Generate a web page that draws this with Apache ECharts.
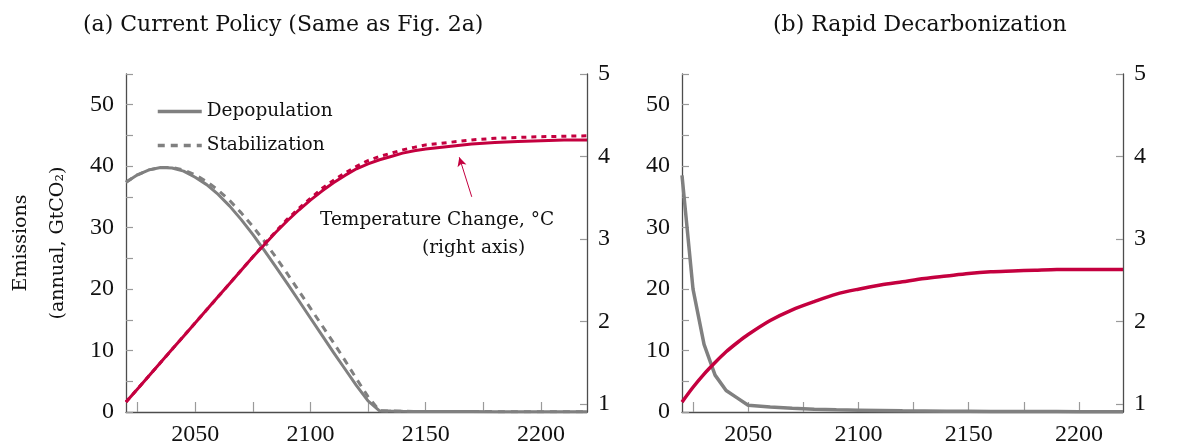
<!DOCTYPE html>
<html>
<head>
<meta charset="utf-8">
<script src="https://cdn.jsdelivr.net/npm/echarts@6/dist/echarts.min.js"></script>
<style>
  html, body { margin: 0; padding: 0; background: #fff; }
  #chart { width: 1177px; height: 448px; }
</style>
</head>
<body>
<div id="chart"></div>
<script>
// ---- data ----
var yearsA = [2020, 2025, 2030, 2035, 2040, 2045, 2050, 2055, 2060, 2065, 2070, 2075, 2080, 2085, 2090,
  2095, 2100, 2105, 2110, 2115, 2120, 2125, 2130, 2135, 2140, 2145, 2150, 2160, 2170, 2180, 2190, 2200, 2210, 2220];
var emisDepop = [37.4, 38.6, 39.4, 39.8, 39.7, 39.2, 38.2, 37.0, 35.4, 33.5, 31.3, 28.9, 26.3, 23.6, 20.9,
  18.1, 15.3, 12.5, 9.7, 7.0, 4.3, 1.8, 0.2, 0.15, 0.12, 0.1, 0.1, 0.08, 0.07, 0.06, 0.05, 0.05, 0.04, 0.04];
var emisStab = [37.4, 38.6, 39.4, 39.8, 39.8, 39.4, 38.6, 37.5, 36.1, 34.4, 32.4, 30.2, 27.8, 25.2, 22.5,
  19.7, 16.9, 14.1, 11.3, 8.4, 5.4, 2.5, 0.2, 0.15, 0.12, 0.1, 0.1, 0.08, 0.07, 0.06, 0.05, 0.05, 0.04, 0.04];
var tempDepop = [1.02, 1.18, 1.34, 1.50, 1.66, 1.82, 1.98, 2.14, 2.30, 2.46, 2.62, 2.78, 2.93, 3.08, 3.22,
  3.35, 3.47, 3.58, 3.68, 3.77, 3.85, 3.91, 3.96, 4.00, 4.04, 4.07, 4.09, 4.12, 4.15, 4.17, 4.18, 4.19, 4.20, 4.20];
var tempStab = [1.02, 1.18, 1.34, 1.50, 1.66, 1.82, 1.98, 2.14, 2.30, 2.46, 2.62, 2.78, 2.94, 3.09, 3.24,
  3.37, 3.49, 3.61, 3.71, 3.80, 3.88, 3.95, 4.00, 4.04, 4.08, 4.11, 4.14, 4.17, 4.20, 4.22, 4.23, 4.24, 4.245, 4.25];

var yearsB = [2020, 2025, 2030, 2035, 2040, 2045, 2050, 2060, 2070, 2080, 2090, 2100, 2110, 2120,
  2130, 2140, 2150, 2160, 2170, 2180, 2190, 2200, 2210, 2220];
var emisRapid = [38.5, 20, 11, 6, 3.5, 2.3, 1.1, 0.8, 0.6, 0.45, 0.35, 0.3, 0.25, 0.2,
  0.17, 0.14, 0.12, 0.1, 0.09, 0.08, 0.07, 0.06, 0.05, 0.05];
var tempRapid = [1.02, 1.20, 1.36, 1.50, 1.63, 1.74, 1.84, 2.01, 2.14, 2.24, 2.33, 2.39, 2.44, 2.48,
  2.52, 2.55, 2.58, 2.60, 2.61, 2.62, 2.63, 2.63, 2.63, 2.63];

var xTicks = [2025, 2050, 2075, 2100, 2125, 2150, 2175, 2200];
var xLabels = [2050, 2100, 2150, 2200];
var tempTicks = [1, 2, 3, 4, 5];

var GRAY = '#808080';
var RED = '#c4003f';
var AXIS = '#4d4d4d';
var TICK = '#9a9a9a';
var NUMFONT = 'Liberation Serif';
var TXTFONT = 'DejaVu Serif';

function pairs(xs, ys) {
  return xs.map(function (x, i) { return [x, ys[i]]; });
}

function xAxisOf(grid) {
  return {
    type: 'value', gridIndex: grid, min: 2020, max: 2220,
    splitLine: { show: false },
    axisLine: { show: true, lineStyle: { color: AXIS, width: 1.3 } },
    axisTick: { show: true, inside: true, length: 10, customValues: xTicks, lineStyle: { color: TICK, width: 1.2 } },
    axisLabel: { customValues: xLabels, margin: 11, color: '#111', fontFamily: NUMFONT, fontSize: 24,
      formatter: function (v) { return String(v); } }
  };
}

function emisAxis(grid, withName) {
  var ax = {
    type: 'value', gridIndex: grid, position: 'left', min: 0, max: 55, interval: 5,
    splitLine: { show: false },
    axisLine: { show: true, lineStyle: { color: AXIS, width: 1.3 } },
    axisTick: { show: true, inside: true, length: 7, lineStyle: { color: TICK, width: 1.2 } },
    axisLabel: {
      margin: 12, color: '#111', fontFamily: NUMFONT, fontSize: 24,
      formatter: function (v) { return (v % 10 === 0 && v <= 50) ? String(v) : ''; }
    }
  };
  if (withName) {
    ax.name = 'Emissions\n(annual, GtCO₂)';
    ax.nameLocation = 'middle';
    ax.nameRotate = 90;
    ax.nameGap = 49;
    ax.nameTextStyle = { color: '#111', fontFamily: TXTFONT, fontSize: 19, lineHeight: 37 };
  }
  return ax;
}

function tempAxis(grid) {
  return {
    type: 'value', gridIndex: grid, position: 'right', min: 0.9, max: 5,
    splitLine: { show: false },
    axisLine: { show: true, lineStyle: { color: AXIS, width: 1.3 } },
    axisTick: { show: true, inside: true, length: 7, customValues: tempTicks, lineStyle: { color: TICK, width: 1.2 } },
    axisLabel: { customValues: tempTicks, margin: 11, color: '#111', fontFamily: NUMFONT, fontSize: 24 }
  };
}

var chart = echarts.init(document.getElementById('chart'), null, { renderer: 'canvas' });

var option = {
  animation: false,
  backgroundColor: '#fff',
  title: [
    { text: '(a) Current Policy (Same as Fig. 2a)', left: 78, top: 9,
      textStyle: { fontFamily: TXTFONT, fontSize: 22, fontWeight: 'normal', color: '#111' } },
    { text: '(b) Rapid Decarbonization', left: 768, top: 9,
      textStyle: { fontFamily: TXTFONT, fontSize: 22, fontWeight: 'normal', color: '#111' } }
  ],
  legend: {
    data: ['Depopulation', 'Stabilization'],
    orient: 'vertical', left: 151, top: 97,
    itemWidth: 44, itemHeight: 14, itemGap: 15,
    selectedMode: false,
    itemStyle: { opacity: 0 },
    lineStyle: { width: 3.5 },
    textStyle: { fontFamily: TXTFONT, fontSize: 18.5, color: '#111', lineHeight: 14 }
  },
  grid: [
    { left: 126, right: 590, top: 74, bottom: 36, containLabel: false, outerBoundsMode: 'none' },
    { left: 682, right: 54, top: 74, bottom: 36, containLabel: false, outerBoundsMode: 'none' }
  ],
  xAxis: [xAxisOf(0), xAxisOf(1)],
  yAxis: [emisAxis(0, true), tempAxis(0), emisAxis(1, false), tempAxis(1)],
  graphic: [
    { type: 'text', left: 320, top: 211,
      style: { text: 'Temperature Change, °C', font: '18.5px "DejaVu Serif"', fill: '#111' } },
    { type: 'text', left: 422, top: 239,
      style: { text: '(right axis)', font: '18.5px "DejaVu Serif"', fill: '#111' } }
  ],
  series: [
    { name: 'Depopulation', type: 'line', xAxisIndex: 0, yAxisIndex: 0, data: pairs(yearsA, emisDepop),
      showSymbol: false, symbol: 'none', lineStyle: { color: GRAY, width: 3 }, itemStyle: { color: GRAY } },
    { name: 'Stabilization', type: 'line', xAxisIndex: 0, yAxisIndex: 0, data: pairs(yearsA, emisStab),
      showSymbol: false, symbol: 'none', lineStyle: { color: GRAY, width: 3, type: [7, 6] }, itemStyle: { color: GRAY } },
    { name: 'Temp stabilization', type: 'line', xAxisIndex: 0, yAxisIndex: 1, data: pairs(yearsA, tempStab),
      showSymbol: false, symbol: 'none', lineStyle: { color: RED, width: 3, type: [5, 5] } },
    { name: 'Temp depopulation', type: 'line', xAxisIndex: 0, yAxisIndex: 1, data: pairs(yearsA, tempDepop),
      showSymbol: false, symbol: 'none', lineStyle: { color: RED, width: 3 },
      markLine: {
        silent: true, animation: false,
        label: { show: false },
        lineStyle: { color: RED, width: 1, type: 'solid' },
        symbol: ['none', 'arrow'], symbolSize: [7, 9],
        data: [[{ coord: [2170, 3.51] }, { coord: [2164.6, 3.99] }]]
      } },
    { name: 'Rapid emissions', type: 'line', xAxisIndex: 1, yAxisIndex: 2, data: pairs(yearsB, emisRapid),
      showSymbol: false, symbol: 'none', lineStyle: { color: GRAY, width: 3.5 } },
    { name: 'Rapid temperature', type: 'line', xAxisIndex: 1, yAxisIndex: 3, data: pairs(yearsB, tempRapid),
      smooth: 0.3, showSymbol: false, symbol: 'none', lineStyle: { color: RED, width: 3.5 } }
  ]
};

chart.setOption(option);
</script>
</body>
</html>
